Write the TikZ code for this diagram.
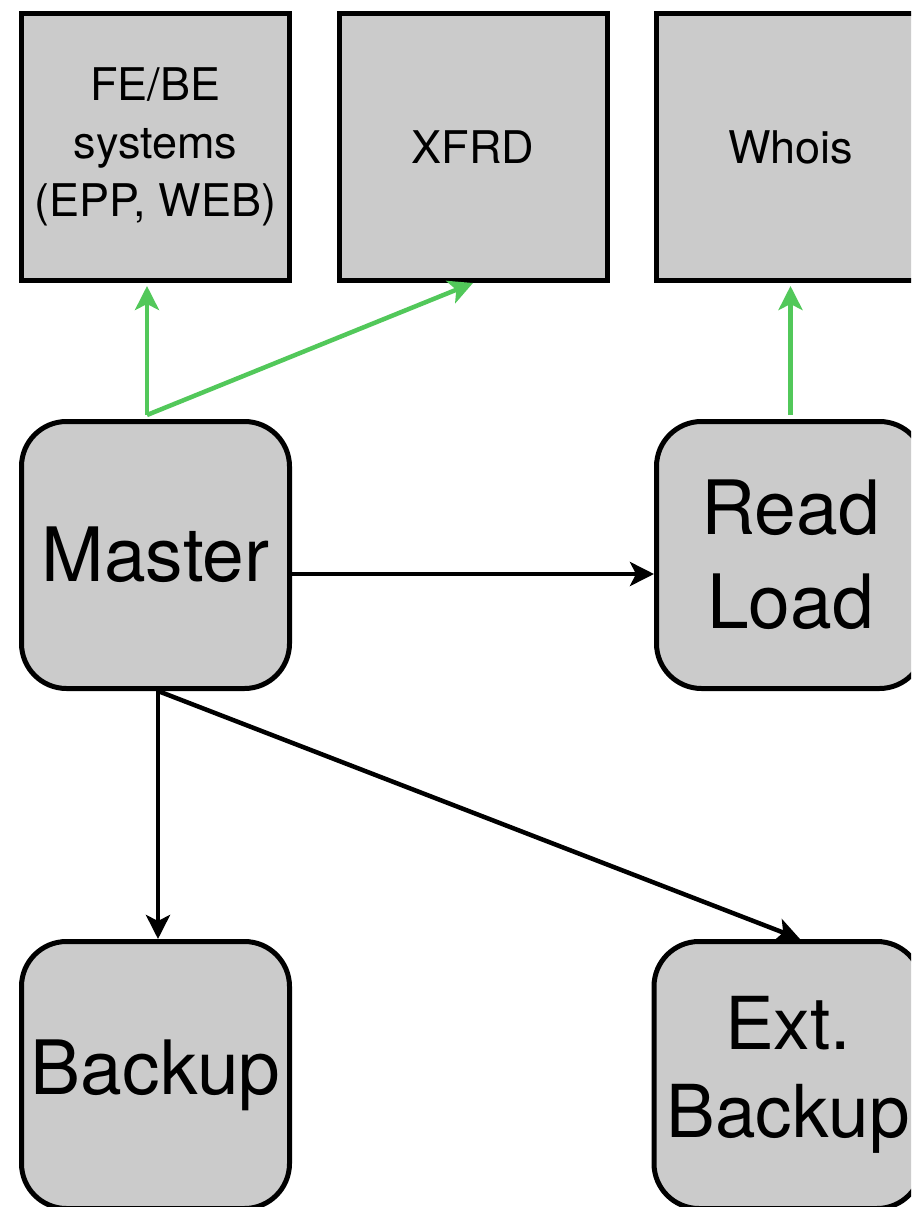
\documentclass[tikz,border=0pt]{standalone}
\usepackage{fontspec}
\setmainfont{TeX Gyre Heros}
\usetikzlibrary{arrows.meta,calc}
\definecolor{boxgray}{RGB}{203,203,203}
\definecolor{arrgreen}{RGB}{82,200,90}
\tikzset{
  sqbox/.style={draw=black,line width=5pt,fill=boxgray,minimum width=268pt,minimum height=267pt,inner sep=0pt,align=center,font=\fontsize{45}{58}\selectfont},
  rbox/.style={sqbox,rounded corners=45pt,font=\fontsize{75}{94}\selectfont},
  garrow/.style={draw=arrgreen,line width=4.5pt,-{Stealth[length=24pt,width=24pt,inset=6pt]}},
  barrow/.style={draw=black,line width=4.5pt,-{Stealth[length=24pt,width=24pt,inset=6pt]}}
}
\begin{document}
\begin{tikzpicture}[x=1pt,y=-1pt]
\useasboundingbox (0,0) rectangle (911,1207);
\clip (0,0) rectangle (911,1207);
\node[sqbox] (fe) at (155.5,147) {FE/BE\\systems\\(EPP, WEB)};
\node[sqbox] (xfrd) at (473,147) {XFRD};
\node[sqbox] (whois) at (790.5,147) {Whois};
\node[rbox] (master) at (155.5,555) {Master};
\node[rbox] (rl) at (790.5,555) {Read\\Load};
\node[rbox] (backup) at (155.5,1075) {Backup};
\node[rbox,font=\fontsize{73}{88}\selectfont] (ext) at (788,1075) {Ext.\\Backup};
\coordinate (mtop) at (147,415);
\coordinate (mright) at ($(master.east)+(0,19)$);
\coordinate (mbot) at ($(master.south)+(2.5,0)$);
\draw[garrow,shorten >=3pt] (mtop) -- (mtop |- fe.south);
\draw[garrow] (mtop) -- (xfrd.south);
\draw[garrow,shorten <=4pt,shorten >=3pt] (rl.north) -- (whois.south);
\draw[barrow] (mright) -- (mright -| rl.west);
\draw[barrow] (mbot) -- (mbot |- backup.north);
\draw[barrow] (mbot) -- ($(ext.north)+(12,0)$);
\end{tikzpicture}
\end{document}
